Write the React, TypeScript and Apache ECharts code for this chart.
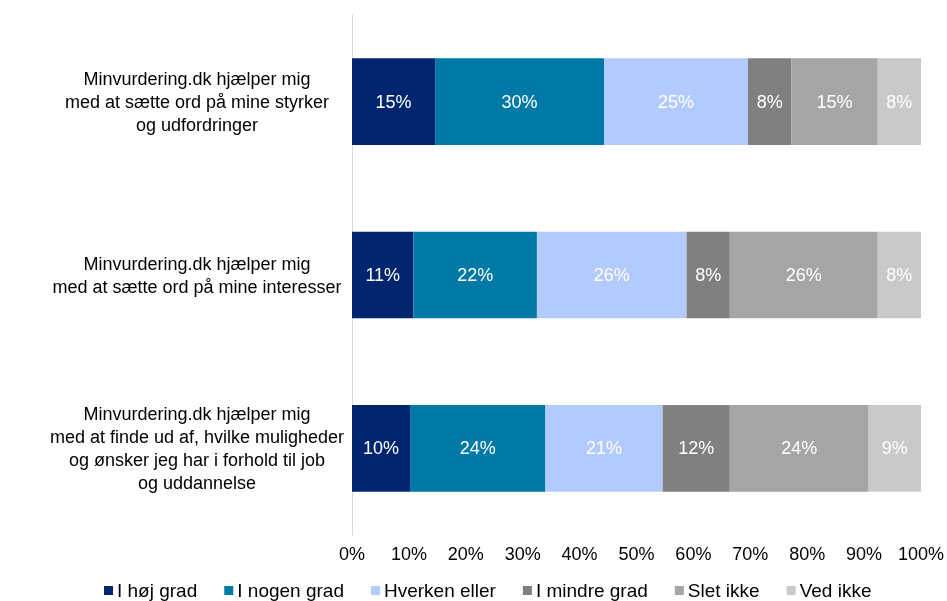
import React, { useEffect, useRef } from "react";
import * as echarts from "echarts";

const categories = [
  "Minvurdering.dk hjælper mig\nmed at sætte ord på mine styrker\nog udfordringer",
  "Minvurdering.dk hjælper mig\nmed at sætte ord på mine interesser",
  "Minvurdering.dk hjælper mig\nmed at finde ud af, hvilke muligheder\nog ønsker jeg har i forhold til job\nog uddannelse",
];

const seriesNames = ["I høj grad", "I nogen grad", "Hverken eller", "I mindre grad", "Slet ikke", "Ved ikke"];

const hoejGrad = [14.6, 10.8, 10.2];
const nogenGrad = [29.7, 21.7, 23.8];
const hverkenEller = [25.3, 26.3, 20.6];
const mindreGrad = [7.6, 7.6, 11.8];
const sletIkke = [15.2, 26.0, 24.4];
const vedIkke = [7.6, 7.6, 9.2];

const tickLabels = ["0%", "10%", "20%", "30%", "40%", "50%", "60%", "70%", "80%", "90%", "100%"];

const colors = ["#00256f", "#0079a6", "#b3cbfc", "#808080", "#a5a5a5", "#c9c9c9"];

const FONT = "'Liberation Sans', Arial, sans-serif";

export default function App() {
  const ref = useRef<HTMLDivElement>(null);
  useEffect(() => {
    if (!ref.current) return;
    const chart = echarts.init(ref.current, null, { renderer: "svg" });
    const values = [hoejGrad, nogenGrad, hverkenEller, mindreGrad, sletIkke, vedIkke];
    chart.setOption({
      animation: false,
      textStyle: { fontFamily: FONT },
      color: colors,
      grid: { left: 352, right: 26, top: 15, bottom: 66, containLabel: false },
      legend: {
        top: 576,
        left: 99,
        itemWidth: 9,
        itemHeight: 9,
        itemGap: 27,
        icon: "rect",
        textStyle: { fontSize: 19, color: "#000", fontFamily: FONT, padding: [0, 0, 0, -1] },
        data: seriesNames,
      },
      xAxis: {
        type: "value",
        min: 0,
        max: 100,
        interval: 10,
        axisLine: { show: false },
        axisTick: { show: false },
        splitLine: { show: false },
        axisLabel: {
          fontSize: 18,
          color: "#000",
          margin: 10,
          formatter: (v: number) => tickLabels[Math.round(v / 10)],
        },
      },
      yAxis: {
        type: "category",
        inverse: true,
        data: categories,
        axisLine: { show: true, lineStyle: { color: "#d9d9d9", width: 1 } },
        axisTick: { show: false },
        axisLabel: {
          fontSize: 18,
          color: "#000",
          align: "center",
          margin: 155,
          lineHeight: 23,
        },
      },
      series: seriesNames.map((name, i) => ({
        name,
        type: "bar",
        stack: "total",
        barCategoryGap: "50%",
        data: values[i],
        itemStyle: { color: colors[i] },
        label: {
          show: true,
          position: "inside",
          color: "#fff",
          fontSize: 18,
          fontFamily: FONT,
          formatter: (p: any) => Math.round(p.value) + "%",
        },
      })),
    });
    return () => chart.dispose();
  }, []);
  return (
    <div
      ref={ref}
      style={{ position: "fixed", left: 0, top: 0, width: 947, height: 601 }}
    />
  );
}
